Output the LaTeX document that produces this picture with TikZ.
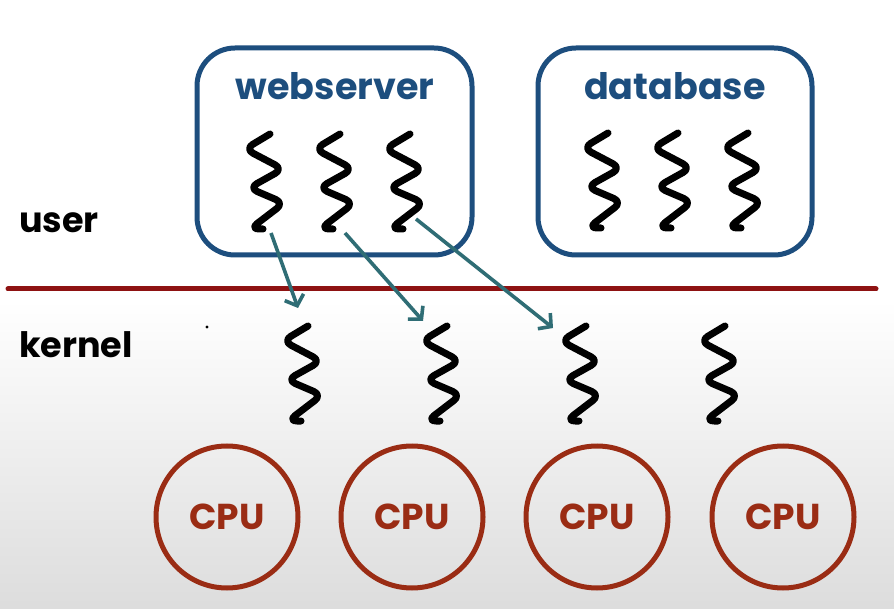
\documentclass[tikz,border=0pt]{standalone}
\usepackage{fontspec}
\setmainfont{Poppins}
\usetikzlibrary{arrows.meta}

\definecolor{boxblue}{HTML}{1D4E7E}
\definecolor{splitred}{HTML}{8E1212}
\definecolor{cpured}{HTML}{9A2C14}
\definecolor{arrowteal}{HTML}{2F6D75}

\tikzset{
  procbox/.style={draw=boxblue, line width=5pt, rounded corners=38pt},
  boxtitle/.style={text=boxblue, font=\fontsize{36.5}{40}\selectfont\bfseries},
  layerlabel/.style={text=black, font=\fontsize{35}{40}\selectfont\bfseries, anchor=base west, inner sep=0pt},
  cpu/.style={circle, draw=cpured, line width=5pt, minimum size=142pt, inner sep=0pt,
              text=cpured, font=\fontsize{36}{40}\selectfont\bfseries},
  maparrow/.style={draw=arrowteal, line width=3.6pt, -{Straight Barb[length=9pt,width=20pt,line width=3.6pt]}},
  squiggle/.pic={
    \draw[line width=7pt, line cap=round, line join=round, rounded corners=9pt]
      (0,0) -- (-25,15) -- (13,35) -- (-21,54) -- (14,69) -- (-20,95) -- (-7,95);
  }
}

\begin{document}
\begin{tikzpicture}[x=1pt, y=-1pt]
  % page and backdrop
  \useasboundingbox (0,0) rectangle (894,609);
  \fill[white] (0,0) rectangle (894,300);
  \fill[top color=white, bottom color=gray!27] (0,300) rectangle (894,609);

  % user-level processes
  \draw[procbox] (197,48) rectangle (472,255);
  \draw[procbox] (538,48) rectangle (812,255);
  \node[boxtitle, anchor=base] (web) at (335,100) {webserver};
  \node[boxtitle, anchor=base] (db) at (675,100) {database};

  % user threads
  \pic at (270,134) {squiggle};
  \pic at (340,134) {squiggle};
  \pic at (410,134) {squiggle};
  \pic at (608,133) {squiggle};
  \pic at (678,133) {squiggle};
  \pic at (748,133) {squiggle};

  % user / kernel boundary
  \node[layerlabel] (user) at (19,233) {user};
  \node[layerlabel] (kernel) at (19,358) {kernel};
  \draw[splitred, line width=5pt, line cap=round] (8,289) -- (876,289);
  \fill (207,327) circle (1.6pt);

  % kernel threads
  \pic at (308,326) {squiggle};
  \pic at (447,326) {squiggle};
  \pic at (586,326) {squiggle};
  \pic at (725,326) {squiggle};

  % mapping of user threads onto kernel threads
  \coordinate (u1) at (271,233);
  \coordinate (u2) at (345,233);
  \coordinate (u3) at (416,219);
  \coordinate (k1) at (298,308);
  \coordinate (k2) at (423,321);
  \coordinate (k3) at (553,328);
  \draw[maparrow] (u1) -- (k1);
  \draw[maparrow] (u2) -- (k2);
  \draw[maparrow] (u3) -- (k3);

  % processors
  \node[cpu] (cpu1) at (227,517) {CPU};
  \node[cpu] (cpu2) at (412,517) {CPU};
  \node[cpu] (cpu3) at (597,517) {CPU};
  \node[cpu] (cpu4) at (783,517) {CPU};
\end{tikzpicture}
\end{document}
